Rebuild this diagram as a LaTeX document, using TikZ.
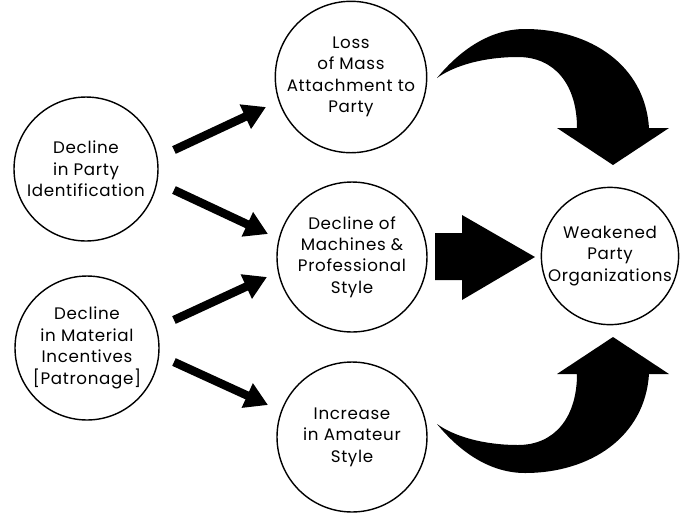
\documentclass[tikz,border=0pt]{standalone}
\usepackage{fontspec}
\setmainfont[LetterSpace=4]{Poppins}
\usetikzlibrary{arrows.meta}
\begin{document}
\begin{tikzpicture}[x=0.02cm,y=-0.02cm,
  bubble/.style={circle,draw,line width=0.8pt,inner sep=0pt,align=center,
    font=\fontsize{9.5}{12.2}\selectfont},
  fatarrow/.style={line width=4.8pt,-{Triangle[length=13pt,width=14.5pt]}},
  blockfill/.style={fill=black,draw=none}]
\useasboundingbox (0,0) rectangle (681,512);
% nodes
\node[bubble,minimum size=2.88cm] (lt) at (86,169) {Decline\\in Party\\Identification};
\node[bubble,minimum size=2.88cm] (lb) at (87,348) {Decline\\in Material\\Incentives\\{[}Patronage{]}};
\node[bubble,minimum size=3.0cm] (mt) at (351,77) {Loss\\of Mass\\Attachment to\\Party};
\node[bubble,minimum size=3.0cm] (mm) at (352,257) {Decline of\\Machines \&\\Professional\\Style};
\node[bubble,minimum size=3.0cm] (mb) at (352,437) {Increase\\in Amateur\\Style};
\node[bubble,minimum size=2.72cm] (rt) at (610,256) {Weakened\\Party\\Organizations};
% straight arrow endpoints
\coordinate (a1s) at (174,150); \coordinate (a1e) at (266,107);
\coordinate (a2s) at (174,190); \coordinate (a2e) at (268,234);
\coordinate (a3s) at (174,320); \coordinate (a3e) at (267,277);
\coordinate (a4s) at (174,362); \coordinate (a4e) at (268,405);
\draw[fatarrow] (a1s) -- (a1e);
\draw[fatarrow] (a2s) -- (a2e);
\draw[fatarrow] (a3s) -- (a3e);
\draw[fatarrow] (a4s) -- (a4e);
% middle block arrow
\fill[blockfill] (435,233) -- (462,233) -- (462,215) -- (535,257) -- (462,300) -- (462,280) -- (435,280) -- cycle;
% top curved arrow
\fill[blockfill] (437,78) .. controls (460,50) and (490,29) .. (525,29)
  .. controls (590,29) and (645,65) .. (649,128) -- (669,128) -- (613,165) -- (557,128) -- (577,128)
  .. controls (577,85) and (555,57) .. (518,57)
  .. controls (485,57) and (455,65) .. (437,78) -- cycle;
% bottom curved arrow
\fill[blockfill] (437,424) .. controls (460,452) and (490,473) .. (525,473)
  .. controls (590,473) and (645,437) .. (649,374) -- (669,374) -- (613,337) -- (557,374) -- (577,374)
  .. controls (577,417) and (555,445) .. (518,445)
  .. controls (485,445) and (455,437) .. (437,424) -- cycle;
\end{tikzpicture}
\end{document}
